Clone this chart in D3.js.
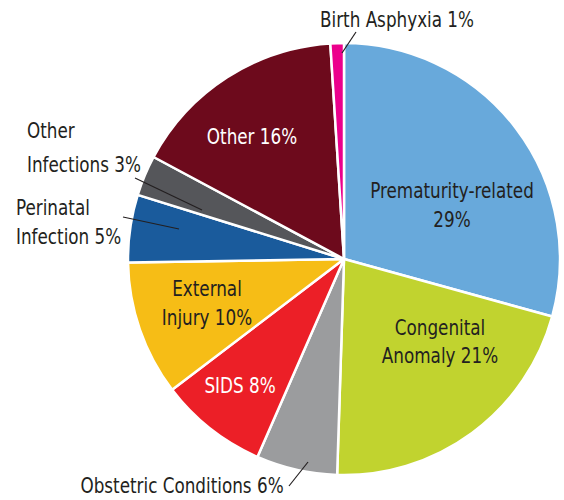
<!DOCTYPE html>
<html>
<head>
<meta charset="utf-8">
<script src="https://cdnjs.cloudflare.com/ajax/libs/d3/7.8.5/d3.min.js"></script>
<style>
  body { margin: 0; background: #fff; }
  svg text { font-family: "DejaVu Sans Condensed", "Liberation Sans Narrow", sans-serif; font-size: 21px; }
</style>
</head>
<body>
<div id="chart"></div>
<script>
// causes of infant death, clockwise from 12 o'clock
const causes = ["Prematurity-related", "Congenital Anomaly", "Obstetric Conditions", "SIDS",
                "External Injury", "Perinatal Infection", "Other Infections", "Other", "Birth Asphyxia"];
const shares = [29, 21, 6, 8, 10, 5, 3, 16, 1];
const colors = ["#68a9db", "#c1d32f", "#9b9c9e", "#ec1f27", "#f6bd16", "#1a5b9c", "#55565a", "#6d0a1c", "#ec008c"];

// label layout: lines, anchor point, line gap, text colour, optional leader line
const labelLayout = [
    {lines: ["Prematurity-related", "29%"], x: 452, y: 198, gap: 29, fill: "#231f20"},
    {lines: ["Congenital", "Anomaly 21%"], x: 440, y: 335, gap: 28, fill: "#231f20"},
    {lines: ["Obstetric Conditions 6%"], x: 182, y: 493, fill: "#231f20", leader: [[289, 486], [308, 462]]},
    {lines: ["SIDS 8%"], x: 240, y: 393, fill: "#fff"},
    {lines: ["External", "Injury 10%"], x: 207, y: 296, gap: 29, fill: "#231f20"},
    {lines: ["Perinatal", "Infection 5%"], x: 16, y: 215, gap: 29, fill: "#231f20", anchor: "start", leader: [[123, 217], [179, 229]]},
    {lines: ["Other", "Infections 3%"], x: 27, y: 138, gap: 34, fill: "#231f20", anchor: "start", leader: [[135, 178], [202, 210]]},
    {lines: ["Other 16%"], x: 252, y: 144, fill: "#fff"},
    {lines: ["Birth Asphyxia 1%"], x: 397, y: 27, fill: "#231f20", leader: [[356, 32], [342, 53]]}
];

const width = 564, height = 500;
const cx = 344, cy = 259, radius = 216;
const squeeze = 0.89; // narrow the font horizontally

const svg = d3.select("#chart").append("svg")
    .attr("width", width)
    .attr("height", height);

const pie = d3.pie().sort(null).value(d => d);
const arc = d3.arc().innerRadius(0).outerRadius(radius);

const g = svg.append("g")
    .attr("transform", `translate(${cx},${cy})`);

g.selectAll(".slice")
    .data(pie(shares))
    .enter().append("path")
    .attr("class", "slice")
    .attr("d", arc)
    .attr("fill", (d, i) => colors[i])
    .attr("stroke", "#fff")
    .attr("stroke-width", 2.5)
    .attr("stroke-linejoin", "round");

// leader lines
svg.selectAll(".leader")
    .data(labelLayout.filter(d => d.leader))
    .enter().append("line")
    .attr("class", "leader")
    .attr("x1", d => d.leader[0][0])
    .attr("y1", d => d.leader[0][1])
    .attr("x2", d => d.leader[1][0])
    .attr("y2", d => d.leader[1][1])
    .attr("stroke", "#231f20")
    .attr("stroke-width", 1.2);

// labels
const labels = svg.selectAll(".label")
    .data(labelLayout)
    .enter().append("text")
    .attr("class", "label")
    .attr("transform", d => `translate(${d.x},${d.y}) scale(${squeeze},1)`)
    .attr("text-anchor", d => d.anchor || "middle")
    .attr("fill", d => d.fill);

labels.selectAll("tspan")
    .data(d => d.lines.map((t, i) => ({t: t, i: i, gap: d.gap || 0})))
    .enter().append("tspan")
    .attr("x", 0)
    .attr("y", d => d.i * d.gap)
    .text(d => d.t);
</script>
</body>
</html>
